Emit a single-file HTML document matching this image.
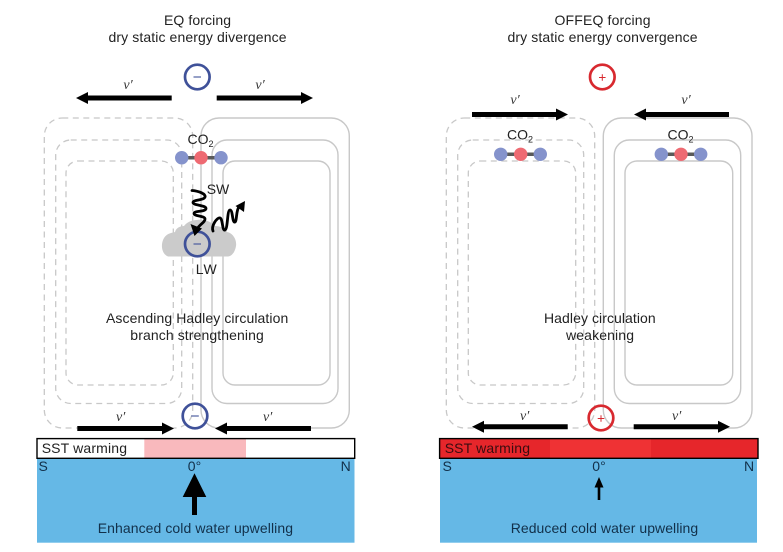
<!DOCTYPE html>
<html>
<head>
<meta charset="utf-8">
<style>
html,body{margin:0;padding:0;background:#fff;width:783px;height:552px;overflow:hidden}
svg{display:block}
text{font-family:"Liberation Sans",sans-serif;font-size:14px;fill:#222}
.v{font-family:"Liberation Serif",serif;font-style:italic;font-size:14px;fill:#333;text-anchor:middle}
.d rect{fill:none;stroke:#c8c8c8;stroke-width:1.3;stroke-dasharray:6 4.5}
.s rect{fill:none;stroke:#c8c8c8;stroke-width:1.4}
.sm{font-size:9px}
.n{fill:#12304a}
</style>
</head>
<body>
<svg width="783" height="552" viewBox="0 0 783 552" xmlns="http://www.w3.org/2000/svg">
<rect width="783" height="552" fill="#fff"/>

<!-- titles -->
<text x="164" y="25" textLength="67" lengthAdjust="spacing">EQ forcing</text>
<text x="108.500" y="42" textLength="178" lengthAdjust="spacing">dry static energy divergence</text>
<text x="554.500" y="25" textLength="96" lengthAdjust="spacing">OFFEQ forcing</text>
<text x="507.500" y="42" textLength="190" lengthAdjust="spacing">dry static energy convergence</text>

<!-- left cells -->
<g class="d">
<rect x="44.300" y="118" width="148.400" height="310" rx="18"/>
<rect x="55.700" y="140" width="126" height="263.500" rx="15"/>
<rect x="66" y="161" width="107.300" height="224" rx="12"/>
</g>
<g class="s">
<rect x="201" y="118" width="148.300" height="310" rx="18"/>
<rect x="212" y="140" width="126" height="263.500" rx="15"/>
<rect x="223" y="161" width="107" height="224" rx="12"/>
</g>

<!-- right cells -->
<g class="d">
<rect x="446.300" y="118" width="148.400" height="310" rx="18"/>
<rect x="457.700" y="140" width="126" height="263.500" rx="15"/>
<rect x="468.300" y="161" width="107.400" height="224" rx="12"/>
</g>
<g class="s">
<rect x="603.300" y="118" width="148.700" height="310" rx="18"/>
<rect x="614.300" y="140" width="126.400" height="263.500" rx="15"/>
<rect x="625" y="161" width="107.700" height="224" rx="12"/>
</g>

<!-- cloud -->
<path d="M168 256.500C162 254 160 245 164 238C167 233 172 233 175 232C176 228 180 226 184 226C187 222 192 220 197 220C204 219 212 222 215 226C220 226 225 228 227 232C233 233 237 240 236 246C235 252 232 256 228 256.500Z" fill="#cbcbcb"/>

<!-- horizontal arrows -->
<g fill="#000">
<path d="M171.700 95.500H88V92L76 98L88 104V100.500H171.700Z"/>
<path d="M216.700 95.500H301V92L313 98L301 104V100.500H216.700Z"/>
<path d="M77.300 426V431H162V434.500L174 428.500L162 422.500V426Z"/>
<path d="M311 426V431H227V434.500L215 428.500L227 422.500V426Z"/>
<path d="M472 112V117H556V120.500L568 114.500L556 108.500V112Z"/>
<path d="M729 112V117H646V120.500L634 114.500L646 108.500V112Z"/>
<path d="M567.700 424.300V429.300H484V432.800L472 426.800L484 420.800V424.300Z"/>
<path d="M633.700 424.300V429.300H718V432.800L730 426.800L718 420.800V424.300Z"/>
</g>

<!-- v' labels -->
<text class="v" x="128" y="89">ν′</text>
<text class="v" x="260" y="89">ν′</text>
<text class="v" x="120.700" y="421">ν′</text>
<text class="v" x="267.700" y="421">ν′</text>
<text class="v" x="515" y="104">ν′</text>
<text class="v" x="686" y="104">ν′</text>
<text class="v" x="524.700" y="420">ν′</text>
<text class="v" x="676.700" y="420">ν′</text>

<!-- circles -->
<g fill="none" stroke="#3f5199" stroke-width="2.700">
<circle cx="197.300" cy="77" r="12.300"/>
<circle cx="197.300" cy="244" r="12.300"/>
<circle cx="195" cy="416" r="12.300"/>
</g>
<g stroke="#3f5199" stroke-width="1.100">
<path d="M193.500 77H201"/><path d="M193.500 244H201"/><path d="M191.200 416H198.800"/>
</g>
<g fill="none" stroke="#d8292f" stroke-width="2.700">
<circle cx="602.300" cy="77" r="12.300"/>
<circle cx="601" cy="418" r="12.300"/>
</g>
<g stroke="#d8292f" stroke-width="1">
<path d="M599 77.500H605.600M602.300 74.200V80.800"/>
<path d="M597.700 418.500H604.300M601 415.200V421.800"/>
</g>

<!-- molecules -->
<g stroke="#5a5a5a" stroke-width="3.500">
<path d="M181.700 157.700H221"/><path d="M500.700 154.300H540.300"/><path d="M661.300 154.300H700.700"/>
</g>
<g fill="#8593cc">
<circle cx="181.700" cy="157.700" r="6.700"/><circle cx="221" cy="157.700" r="6.700"/>
<circle cx="500.700" cy="154.300" r="6.700"/><circle cx="540.300" cy="154.300" r="6.700"/>
<circle cx="661.300" cy="154.300" r="6.700"/><circle cx="700.700" cy="154.300" r="6.700"/>
</g>
<g fill="#ee6a72">
<circle cx="201" cy="157.700" r="6.700"/><circle cx="520.700" cy="154.300" r="6.700"/><circle cx="681" cy="154.300" r="6.700"/>
</g>

<!-- CO2 -->
<text x="187.500" y="144">CO<tspan class="sm" dy="3">2</tspan></text>
<text x="507" y="139.500">CO<tspan class="sm" dy="3">2</tspan></text>
<text x="667.500" y="139.500">CO<tspan class="sm" dy="3">2</tspan></text>

<text x="206.700" y="194" textLength="22.500" lengthAdjust="spacing">SW</text>
<text x="195.700" y="274" textLength="21" lengthAdjust="spacing">LW</text>

<!-- wavy arrows -->
<g fill="none" stroke="#000" stroke-width="2.800" stroke-linecap="round">
<path d="M192 190.500C199 191 206 194 205 197C204 200.500 193 199.500 193 202.500C193 205.500 206 205 206 208.500C206 212 194 210.500 194 213.500C194 216.500 205 215.500 205 219C205 222.500 200 224 197 229"/>
<path d="M213 231C211 226 217 217 220 218C223 219 222 231 225 230C228 229 227 210 230 210C233 210 232 223 235 222C237 221 236 210 239 207"/>
</g>
<path d="M190.500 224L202 228.500L194.500 236Z" fill="#000"/>
<path d="M245 201L244 212L235.500 206Z" fill="#000"/>

<!-- left ocean -->
<rect x="37" y="458" width="317.500" height="84.700" fill="#65b8e6"/>
<rect x="37" y="438.600" width="317.700" height="19.700" fill="#fff"/>
<rect x="144.300" y="438.600" width="101.700" height="19.700" fill="#f9b9bd"/>
<rect x="37" y="438.600" width="317.700" height="19.700" fill="none" stroke="#000" stroke-width="1.400"/>
<text x="41.700" y="453" textLength="85.300" lengthAdjust="spacing">SST warming</text>

<!-- right ocean -->
<rect x="440" y="458" width="317" height="84.700" fill="#65b8e6"/>
<rect x="439.600" y="438.600" width="318.400" height="19.700" fill="#e6262b"/>
<rect x="550" y="439" width="101" height="19" fill="#ef3234"/>
<rect x="439.600" y="438.600" width="318.400" height="19.700" fill="none" stroke="#000" stroke-width="1.400"/>
<text x="444.700" y="453" textLength="85.300" lengthAdjust="spacing" style="fill:#3a0d10">SST warming</text>

<!-- axis labels -->
<g class="n">
<text class="n" x="38.500" y="471">S</text>
<text class="n" x="187.800" y="471">0°</text>
<text class="n" x="340.600" y="471">N</text>
<text class="n" x="442.500" y="471">S</text>
<text class="n" x="592.300" y="471">0°</text>
<text class="n" x="744" y="471">N</text>
<text class="n" x="97.700" y="533" textLength="195.300" lengthAdjust="spacing">Enhanced cold water upwelling</text>
<text class="n" x="510.700" y="533" textLength="187.500" lengthAdjust="spacing">Reduced cold water upwelling</text>
</g>

<!-- up arrows -->
<path d="M194.500 473.300L206.300 497H197V515H192V497H182.700Z" fill="#000"/>
<path d="M599 477L603.500 487.500H600.300V500H597.700V487.500H594.500Z" fill="#000"/>

<!-- center labels -->
<text x="106" y="323" textLength="182.300" lengthAdjust="spacing">Ascending Hadley circulation</text>
<text x="130.300" y="340" textLength="133.500" lengthAdjust="spacing">branch strengthening</text>
<text x="544" y="323" textLength="111.700" lengthAdjust="spacing">Hadley circulation</text>
<text x="566" y="340" textLength="68" lengthAdjust="spacing">weakening</text>
</svg>
</body>
</html>
